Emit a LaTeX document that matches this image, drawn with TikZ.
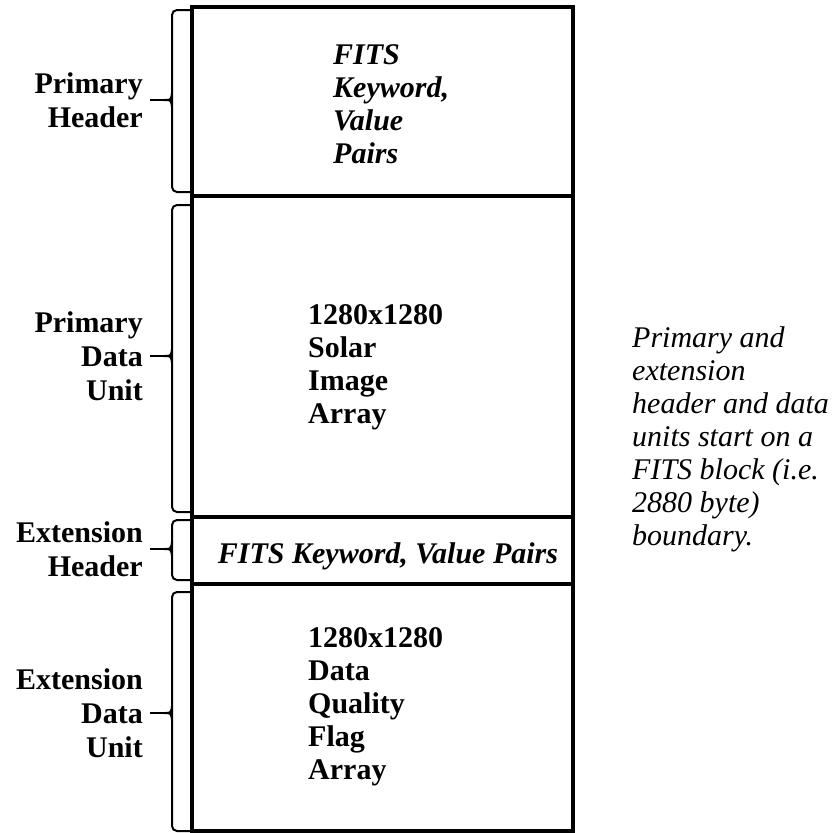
\documentclass[tikz,border=0pt]{standalone}
\usepackage{fontspec}
\setmainfont{Liberation Serif}
\begin{document}
\begin{tikzpicture}[x=1pt,y=-1pt,
    unitname/.style={font=\fontsize{30}{34}\selectfont\bfseries,align=right,anchor=east,inner sep=0pt},
    body/.style={font=\fontsize{30}{33}\selectfont\bfseries,align=left,anchor=north west,inner sep=0pt},
    keytext/.style={body,font=\fontsize{30}{33}\selectfont\bfseries\itshape},
    note/.style={font=\fontsize{30}{33}\selectfont\itshape,align=left,anchor=north west,inner sep=0pt},
    bracket/.style={line width=2pt,rounded corners=5pt},
    wall/.style={line width=3.5pt}]
    \useasboundingbox (0,0) rectangle (832,833);
    % the file, top to bottom
    \draw[wall] (192,7) rectangle (573,831);
    \draw[wall] (192,196)--(573,196);
    \draw[wall] (192,517)--(573,517);
    \draw[wall] (192,584)--(573,584);
    \node[keytext] (phtext) at (333,44) {FITS\\Keyword,\\Value\\Pairs};
    \node[body] (pdtext) at (308,304) {1280x1280\\Solar\\Image\\Array};
    \node[keytext,anchor=center] (ehtext) at (388,556) {FITS Keyword, Value Pairs};
    \node[body] (edtext) at (308,627) {1280x1280\\Data\\Quality\\Flag\\Array};
    % unit names with their brackets
    \node[unitname] (ph) at (143,100) {Primary\\Header};
    \node[unitname] (pd) at (143,356) {Primary\\Data\\Unit};
    \node[unitname] (eh) at (143,549) {Extension\\Header};
    \node[unitname] (ed) at (143,713) {Extension\\Data\\Unit};
    \foreach \n/\t/\m/\b in {ph/10/100/192,pd/205/356/512,eh/520/549/580,ed/592/713/831}{
        \draw[bracket] (190,\t)--(172,\t)--(172,\b)--(190,\b);
        \coordinate (\n-tip) at (164,\m);
        \draw[line width=2pt] ([xshift=7pt]\n.east)--(\n-tip);
        \draw[line width=2pt] (172,\m-7) .. controls (171,\m) .. (\n-tip) .. controls (171,\m) .. (172,\m+7);
    }
    \node[note] (remark) at (632,326) {Primary and\\extension\\header and data\\units start on a\\FITS block (i.e.\\2880 byte)\\boundary.};
\end{tikzpicture}
\end{document}
